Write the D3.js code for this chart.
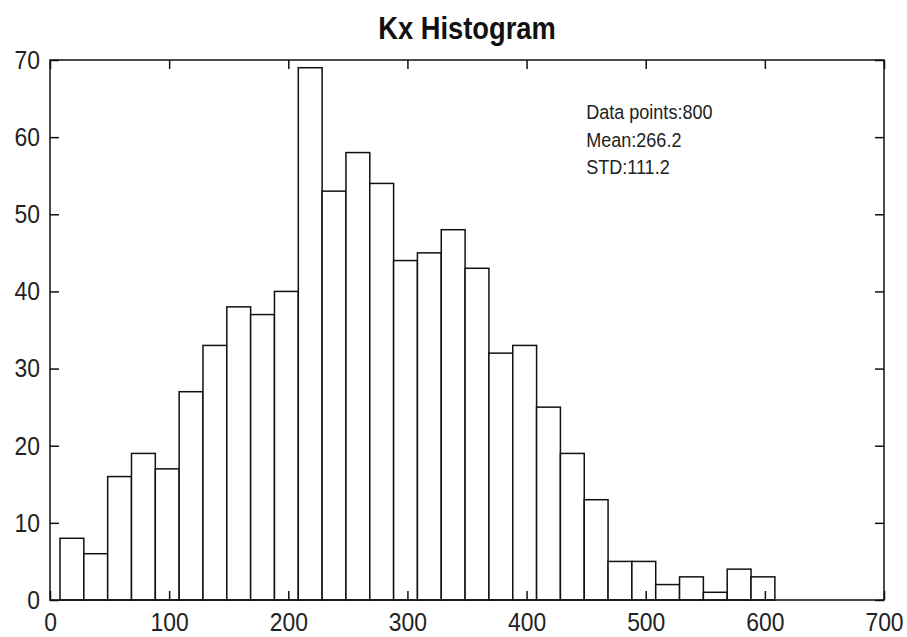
<!DOCTYPE html>
<html>
<head>
<meta charset="utf-8">
<script src="https://cdn.jsdelivr.net/npm/d3@7"></script>
<style>
  body { margin: 0; background: #fff; }
  svg { display: block; font-family: "Liberation Sans", Arial, sans-serif; }
</style>
</head>
<body>
<svg width="907" height="637"></svg>
<script>
// histogram bins (left/right edges) and counts
let binEdges = [8.4, 28.4, 48.4, 68.4, 88.4, 108.4, 128.4, 148.4, 168.4, 188.4,
    208.4, 228.4, 248.4, 268.4, 288.4, 308.4, 328.4, 348.4, 368.4, 388.4,
    408.4, 428.4, 448.4, 468.4, 488.4, 508.4, 528.4, 548.4, 568.4, 588.4, 608.4]
let counts = [8, 6, 16, 19, 17, 27, 33, 38, 37, 40,
    69, 53, 58, 54, 44, 45, 48, 43, 32, 33,
    25, 19, 13, 5, 5, 2, 3, 1, 4, 3]
let xTicks = [0, 100, 200, 300, 400, 500, 600, 700]
let yTicks = [0, 10, 20, 30, 40, 50, 60, 70]
let title = "Kx Histogram"
let statLines = ["Data points:800", "Mean:266.2", "STD:111.2"]

let data = counts.map((c, i) => ({ x0: binEdges[i], x1: binEdges[i + 1], value: c }))

var svg = d3.select("svg")
var pLeft = 50, pRight = 884, pTop = 60, pBottom = 600
var condense = 0.88  // the original font is narrow

var x = d3.scaleLinear().domain([0, 700]).range([pLeft, pRight])
var y = d3.scaleLinear().domain([0, 70]).range([pBottom, pTop])

function squeeze(sel) {
    sel.each(function () {
        let w = this.getComputedTextLength()
        d3.select(this).attr("textLength", w * condense).attr("lengthAdjust", "spacingAndGlyphs")
    })
}

// bars
svg.append("g").selectAll(".bar")
    .data(data)
    .enter().append("rect")
    .attr("class", "bar")
    .attr("x", d => x(d.x0))
    .attr("y", d => y(d.value))
    .attr("width", d => x(d.x1) - x(d.x0))
    .attr("height", d => y(0) - y(d.value))
    .attr("fill", "#fff")
    .attr("stroke", "#111")
    .attr("stroke-width", 1.5)

// axes: ticks pointing inward on all four sides
var tk = 9
svg.append("g")
    .attr("transform", "translate(0," + pBottom + ")")
    .call(d3.axisBottom(x).tickValues(xTicks).tickSize(-tk).tickPadding(13))
svg.append("g")
    .attr("transform", "translate(0," + pTop + ")")
    .call(d3.axisTop(x).tickValues(xTicks).tickSize(-tk).tickFormat(""))
svg.append("g")
    .attr("transform", "translate(" + pLeft + ",0)")
    .call(d3.axisLeft(y).tickValues(yTicks).tickSize(-tk).tickPadding(10))
svg.append("g")
    .attr("transform", "translate(" + pRight + ",0)")
    .call(d3.axisRight(y).tickValues(yTicks).tickSize(-tk).tickFormat(""))

svg.selectAll(".domain").remove()
svg.selectAll(".tick line").attr("stroke", "#111").attr("stroke-width", 1.5)
svg.selectAll(".tick text")
    .attr("font-family", "'Liberation Sans', Arial, sans-serif")
    .attr("font-size", "26px")
    .attr("fill", "#222")
    .call(squeeze)

// frame
svg.append("rect")
    .attr("x", pLeft).attr("y", pTop)
    .attr("width", pRight - pLeft).attr("height", pBottom - pTop)
    .attr("fill", "none")
    .attr("stroke", "#111")
    .attr("stroke-width", 1.5)

// title
svg.append("text")
    .attr("x", (pLeft + pRight) / 2)
    .attr("y", 39)
    .attr("text-anchor", "middle")
    .attr("font-size", "31px")
    .attr("font-weight", "bold")
    .attr("fill", "#111")
    .text(title)
    .call(squeeze)

// stats box text
svg.append("g").selectAll("text")
    .data(statLines)
    .enter().append("text")
    .attr("x", x(450))
    .attr("y", (d, i) => 119 + i * 27.5)
    .attr("font-size", "20.5px")
    .attr("fill", "#222")
    .text(d => d)
    .call(squeeze)
</script>
</body>
</html>
